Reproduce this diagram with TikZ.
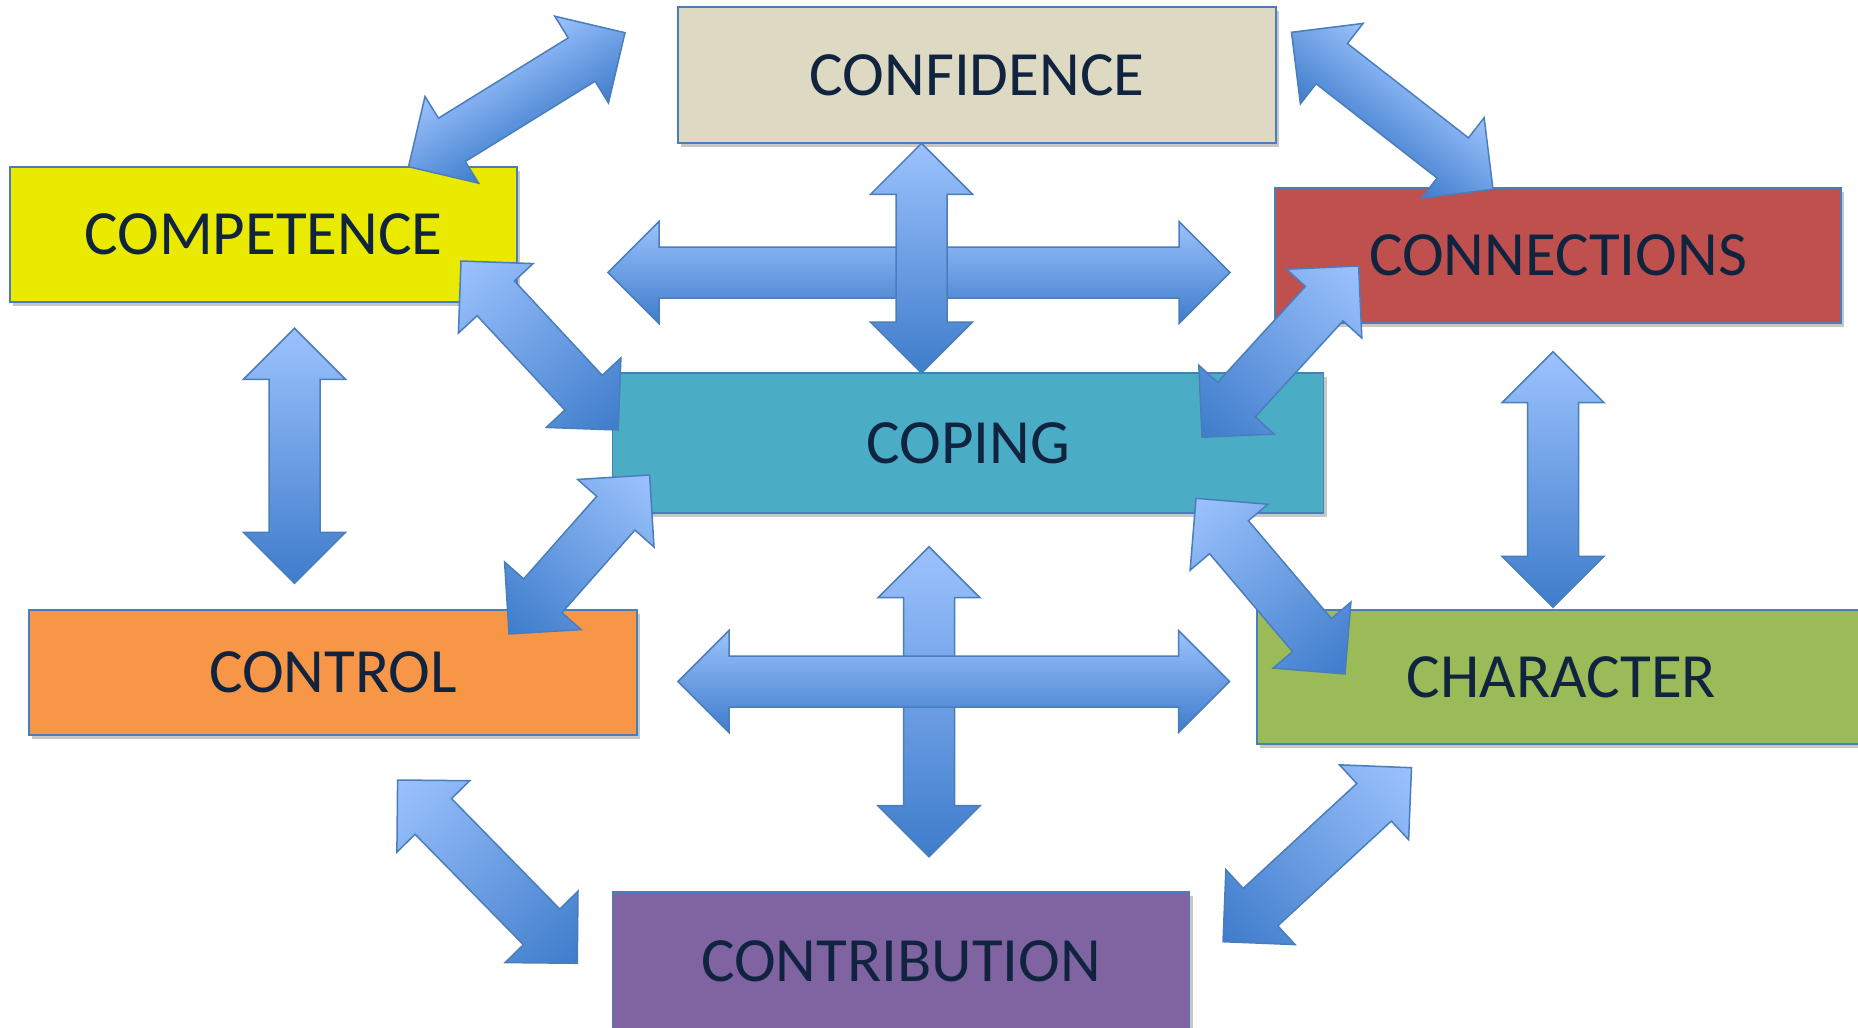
\documentclass[tikz,border=0pt]{standalone}
\usepackage{fontspec}
\setmainfont{Carlito}
\usetikzlibrary{calc,shadows}
\definecolor{lightb}{HTML}{9CC2FD}
\definecolor{darkb}{HTML}{3E7CCB}
\definecolor{edgeb}{HTML}{4A7EBB}
\definecolor{txt}{HTML}{10243F}
\definecolor{cconf}{HTML}{DDD9C3}
\definecolor{ccomp}{HTML}{EAEA00}
\definecolor{cconn}{HTML}{C0504D}
\definecolor{ccop}{HTML}{4BACC6}
\definecolor{cctrl}{HTML}{F79646}
\definecolor{cchar}{HTML}{9BBB59}
\definecolor{ccontr}{HTML}{8064A2}
\tikzset{
  box/.style={draw=edgeb, line width=1.5pt, inner sep=0pt, text=txt,
    font=\fontsize{63}{70}\selectfont,
    drop shadow={shadow xshift=3pt,shadow yshift=-4pt,fill=black,opacity=0.22}},
  arrline/.style={draw=edgeb, line width=1.5pt, line join=miter},
  axisgrad/.style={left color=lightb, right color=darkb},
  crossgrad/.style={top color=lightb, bottom color=darkb},
}
\newcommand\blockarrow[3]{%
  \path (#1); \pgfgetlastxy{\bAx}{\bAy}%
  \path (#2); \pgfgetlastxy{\bBx}{\bBy}%
  \pgfmathsetmacro\bAng{atan2(\bBy-\bAy,\bBx-\bAx)}%
  \pgfmathsetmacro\bLen{veclen(\bBx-\bAx,\bBy-\bAy)}%
  \pgfmathsetmacro\bLh{\bLen-51}%
  \begin{scope}[transform canvas={shift={(\bAx,\bAy)},rotate=\bAng}]
    \path[arrline,#3] (0pt,0pt) -- (51pt,51pt) -- (51pt,25.5pt) -- (\bLh pt,25.5pt)
      -- (\bLh pt,51pt) -- (\bLen pt,0pt) -- (\bLh pt,-51pt) -- (\bLh pt,-25.5pt)
      -- (51pt,-25.5pt) -- (51pt,-51pt) -- cycle;
  \end{scope}}
\begin{document}
\begin{tikzpicture}[x=1pt,y=-1pt]
\useasboundingbox (0,0) rectangle (1858,1028);
% boxes
\node[box, fill=cconf, minimum width=598pt, minimum height=136pt] (confidence) at (977,75) {CONFIDENCE};
\node[box, fill=ccomp, minimum width=507pt, minimum height=135pt] (competence) at (263.5,234.5) {COMPETENCE};
\node[box, fill=cconn, minimum width=566pt, minimum height=135pt] (connections) at (1558,255.5) {CONNECTIONS};
\node[box, fill=ccop, minimum width=711pt, minimum height=140pt] (coping) at (968,443) {COPING};
\node[box, fill=cctrl, minimum width=608pt, minimum height=125pt] (control) at (333,672.5) {CONTROL};
\node[box, fill=cchar, minimum width=609pt, minimum height=134pt] (character) at (1561.5,677) {CHARACTER};
\node[box, fill=ccontr, minimum width=577pt, minimum height=138pt] (contribution) at (901,961) {CONTRIBUTION};
% arrow end points
\coordinate (vt1) at (921.5,143.3); \coordinate (vt2) at (921.5,373);
\coordinate (ht1) at (608,272.5);   \coordinate (ht2) at (1230,272.5);
\coordinate (vb1) at (929,546.7);   \coordinate (vb2) at (929,856.7);
\coordinate (hb1) at (678,681.5);   \coordinate (hb2) at (1229.5,681.5);
\coordinate (vl1) at (294.5,328.3); \coordinate (vl2) at (294.5,583.3);
\coordinate (vr1) at (1553,351.7);  \coordinate (vr2) at (1553,607.3);
\coordinate (d1a) at (408.5,166.7); \coordinate (d1b) at (625,32.7);
\coordinate (d2a) at (1291.5,32.3); \coordinate (d2b) at (1493,189.3);
\coordinate (d3a) at (461,261);     \coordinate (d3b) at (618.3,430);
\coordinate (d4a) at (1358.6,266);  \coordinate (d4b) at (1202,437.3);
\coordinate (d5a) at (649.6,475);   \coordinate (d5b) at (509,634);
\coordinate (d6a) at (1196,498.3);  \coordinate (d6b) at (1345,674);
\coordinate (d7a) at (397.6,780);   \coordinate (d7b) at (577.3,963.3);
\coordinate (d8a) at (1411.5,767.7);\coordinate (d8b) at (1223,941.7);
% top cross
\blockarrow{ht1}{ht2}{crossgrad}
\blockarrow{vt1}{vt2}{axisgrad}
% bottom cross
\blockarrow{vb1}{vb2}{axisgrad}
\blockarrow{hb1}{hb2}{crossgrad}
% side verticals
\blockarrow{vl1}{vl2}{axisgrad}
\blockarrow{vr1}{vr2}{axisgrad}
% diagonals
\blockarrow{d1a}{d1b}{crossgrad}
\blockarrow{d2a}{d2b}{crossgrad}
\blockarrow{d3a}{d3b}{axisgrad}
\blockarrow{d4a}{d4b}{axisgrad}
\blockarrow{d5a}{d5b}{axisgrad}
\blockarrow{d6a}{d6b}{axisgrad}
\blockarrow{d7a}{d7b}{axisgrad}
\blockarrow{d8a}{d8b}{axisgrad}
\end{tikzpicture}
\end{document}
